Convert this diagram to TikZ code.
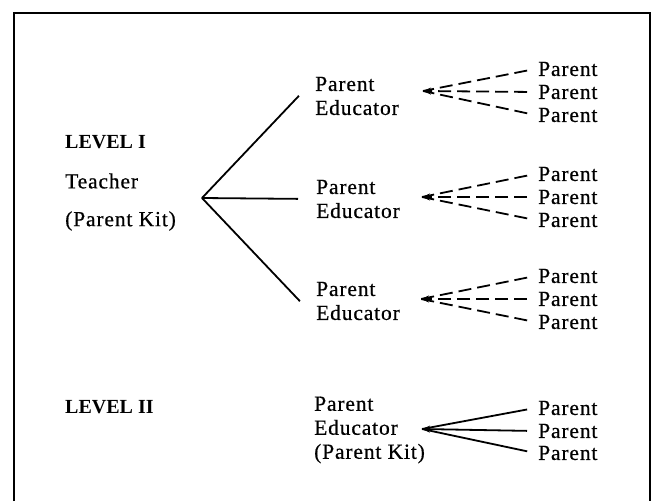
\documentclass[tikz,border=0pt]{standalone}
\usepackage{fontspec}
\setmainfont{Liberation Serif}[LetterSpace=4,FakeBold=0.6,BoldFeatures={LetterSpace=0,FakeBold=0}]
\usetikzlibrary{arrows.meta}

\tikzset{
  lbl/.style={anchor=west,inner sep=3pt,font=\fontsize{21.5}{24}\selectfont,align=left},
  hd/.style={lbl,font=\fontsize{20}{24}\selectfont\bfseries},
  solidline/.style={line width=1.8pt},
  dashline/.style={line width=1.8pt,dash pattern=on 13pt off 6pt,shorten <=8pt},
  tip/.style={-{Stealth[length=8pt,width=7pt]}}
}

\begin{document}
\begin{tikzpicture}[x=1pt,y=-1pt]
   \useasboundingbox (0,0) rectangle (656,501);
   \draw[line width=2.8pt] (14,501) -- (14,13) -- (650,13) -- (650,501);
   % left column
   \node[hd] (lvl1) at (62,142) {LEVEL I};
   \node[lbl] (teacher) at (62,181) {Teacher};
   \node[lbl] (kit) at (62,221) {(Parent Kit)};
   \node[hd] (lvl2) at (62,407) {LEVEL II};
   % parent educators
   \node[lbl] (pe1) at (312,96) {Parent\\Educator};
   \node[lbl] (pe2) at (313,199) {Parent\\Educator};
   \node[lbl] (pe3) at (313,301) {Parent\\Educator};
   \node[lbl] (pe4) at (311,430) {Parent\\Educator\\(Parent Kit)};
   \coordinate (t0) at (202,198);
   \draw[solidline,shorten >=19pt] (t0) -- ([yshift=14pt]pe1.west);
   \draw[solidline,shorten >=15pt] (t0) -- (pe2.west);
   \draw[solidline,shorten >=19pt] (t0) -- ([yshift=-14pt]pe3.west);
   % parents
   \coordinate (a1) at (423,91);
   \coordinate (a2) at (422,197);
   \coordinate (a3) at (421,299);
   \coordinate (a4) at (422,429);
   \node[lbl] (p11) at (535,69) {Parent};
   \node[lbl] (p12) at (535,92) {Parent};
   \node[lbl] (p13) at (535,115) {Parent};
   \node[lbl] (p21) at (535,174) {Parent};
   \node[lbl] (p22) at (535,197) {Parent};
   \node[lbl] (p23) at (535,220) {Parent};
   \node[lbl] (p31) at (535,276) {Parent};
   \node[lbl] (p32) at (535,299) {Parent};
   \node[lbl] (p33) at (535,322) {Parent};
   \node[lbl] (p41) at (535,408) {Parent};
   \node[lbl] (p42) at (535,431) {Parent};
   \node[lbl] (p43) at (535,453) {Parent};
   \draw[dashline] (p11.west) -- (a1);
   \draw[dashline,tip] (p12.west) -- (a1);
   \draw[dashline] (p13.west) -- (a1);
   \draw[dashline] (p21.west) -- (a2);
   \draw[dashline,tip] (p22.west) -- (a2);
   \draw[dashline] (p23.west) -- (a2);
   \draw[dashline] (p31.west) -- (a3);
   \draw[dashline,tip] (p32.west) -- (a3);
   \draw[dashline] (p33.west) -- (a3);
   \draw[solidline,shorten <=8pt] (p41.west) -- (a4);
   \draw[solidline,shorten <=8pt,tip] (p42.west) -- (a4);
   \draw[solidline,shorten <=8pt] (p43.west) -- (a4);
\end{tikzpicture}
\end{document}
